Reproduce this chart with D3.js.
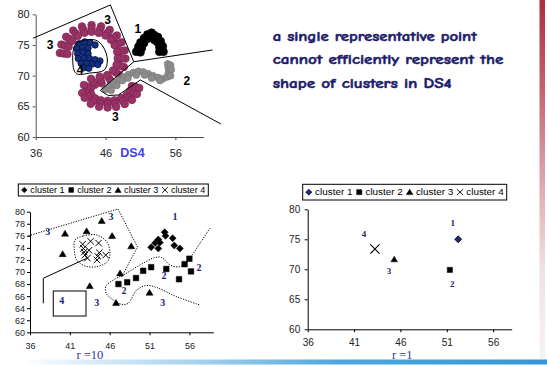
<!DOCTYPE html>
<html><head><meta charset="utf-8">
<script src="https://cdn.jsdelivr.net/npm/d3@7/dist/d3.min.js"></script>
<style>html,body{margin:0;padding:0;background:#fff;}svg{display:block;}</style>
</head><body>
<svg id="chart" width="547" height="365"></svg>
<script>
// ================= DATA =================
// --- DS4 (top chart) ---
const ds4XTicks=[36,46,56];
const ds4YTicks=[60,65,70,75,80];
const ds4Cluster1=[[50.4,73.9],[51.0,73.8],[50.7,74.7],[51.2,74.5],[51.0,75.4],[51.5,75.3],[51.5,76.1],[52.0,76.0],[52.0,76.7],[52.5,76.4],[52.6,77.0],[53.0,76.6],[53.5,76.3],[53.0,75.8],[53.4,75.5],[53.9,75.6],[53.7,74.7],[54.2,74.8],[53.7,73.9],[54.3,73.9]];
const ds4Cluster2=[[46.0,67.8],[46.6,68.3],[47.2,68.8],[47.9,69.3],[48.6,69.8],[49.3,70.2],[50.0,70.5],[50.7,70.7],[51.4,70.6],[52.1,70.3],[52.8,70.0],[53.5,69.7],[54.2,69.5],[54.8,69.8],[55.0,70.5],[55.0,71.3],[54.9,71.9],[55.3,71.7],[46.8,67.6],[47.6,68.4],[48.4,69.2],[49.2,69.6],[50.4,70.1],[51.6,70.1],[52.6,69.6],[53.8,69.2],[55.3,70.0],[55.4,71.0]];
const ds4Cluster3=[
 [39.46,73.68],[39.68,75.07],[40.36,76.33],[41.37,77.34],[42.62,78.02],[44.0,78.25],[45.36,78.03],[46.6,77.46],[47.62,76.55],[48.3,75.43],[48.74,74.11],[48.85,72.78],[48.62,71.42],[47.93,70.16],[46.76,69.12],[45.44,68.77],[44.48,68.52],[43.89,67.94],[43.75,67.13],[43.98,66.92],[44.52,66.3],[45.33,65.99],[46.3,65.9],[47.28,65.99],[48.25,66.34],[49.03,66.85],[49.51,67.51],[49.78,68.32],
 [40.0,73.6],[40.2,74.9],[40.8,76.0],[41.7,76.9],[42.8,77.5],[44.0,77.7],[45.2,77.5],[46.3,77.0],[47.2,76.2],[47.8,75.2],[48.2,74.0],[48.3,72.8],[48.1,71.6],[47.5,70.5],[46.5,69.6],[45.3,69.3],[44.2,69.0],[43.4,68.2],[43.2,67.2],[43.5,66.65],[44.2,65.85],[45.2,65.45],[46.3,65.35],[47.4,65.45],[48.5,65.85],[49.4,66.45],[50.0,67.25],[50.3,68.15],
 [40.54,73.52],[40.72,74.73],[41.24,75.67],[42.03,76.46],[42.98,76.98],[44.0,77.15],[45.04,76.97],[46.0,76.54],[46.78,75.85],[47.3,74.97],[47.66,73.89],[47.75,72.82],[47.58,71.78],[47.07,70.84],[46.24,70.08],[45.16,69.83],[43.92,69.48],[42.91,68.46],[42.65,67.17],[43.02,66.38],[43.88,65.4],[45.07,64.92],[46.3,64.8],[47.52,64.91],[48.75,65.36],[49.78,66.05],[50.49,66.99],[50.82,67.98]
];
const ds4Cluster4=[[42.2,75.2],[43.0,75.5],[43.8,75.4],[44.5,75.0],[41.9,74.4],[42.7,74.6],[43.5,74.5],[42.0,73.6],[42.8,73.8],[43.5,73.6],[42.1,72.8],[42.9,72.9],[43.7,72.8],[44.5,72.6],[45.2,72.4],[42.5,72.0],[43.3,72.0],[44.1,71.9],[44.9,71.8],[42.9,71.3],[43.6,71.2]];
const ds4Line1=[[35.61,76.09],[46.69,81.52],[50.04,72.27],[61.32,74.18]];
const ds4Line2=[[50.04,72.27],[45.25,67.58],[46.4,66.76],[47.84,66.85],[51.0,69.29],[62.52,62.12]];
const ds4Ring4=[[41.8,75.24],[44.53,75.81],[45.68,74.67],[46.26,72.55],[45.83,70.92],[43.81,70.43],[41.8,70.35],[41.3,72.55]];
const ds4Labels=[['3',46.3,79.18],['3',38.06,75.0],['1',50.62,77.72],['2',57.63,69.18],['3',47.41,63.31],['4',42.37,71.04]];
const ds4Title='DS4';
const noteLines=['a single representative point','cannot efficiently represent the','shape of clusters in DS4'];

// --- legends ---
const legendLabels=['cluster 1','cluster 2','cluster 3','cluster 4'];

// --- r = 10 chart ---
const r10XTicks=[36,41,46,51,56];
const r10YTicks=[60,62,64,66,68,70,72,74,76,78,80];
const r10Cluster1=[[52.9,76.6],[53.0,76.0],[52.1,75.4],[53.9,75.6],[51.7,74.8],[52.3,74.9],[51.2,74.1],[52.1,73.9],[54.1,74.4],[54.8,73.9]];
const r10Cluster2=[[47.1,68.0],[48.2,68.3],[49.3,69.0],[50.2,70.2],[51.2,70.8],[53.1,70.5],[54.7,68.8],[55.4,71.3],[56.0,72.2],[56.2,70.1]];
const r10Cluster3=[[40.4,76.4],[43.1,76.8],[45.0,78.5],[40.1,73.0],[46.3,76.0],[48.7,74.3],[47.3,69.8],[43.5,67.7],[46.8,64.9],[51.0,66.6]];
const r10Cluster4=[[42.6,74.6],[43.6,75.1],[44.6,74.8],[42.7,73.9],[42.8,73.3],[43.4,73.6],[42.9,72.8],[44.7,73.2],[43.2,72.3],[44.5,72.6],[45.5,72.8],[44.4,72.0]];
const r10Bound3=[[35.8,76.0],[47.04,80.45],[49.49,74.15],[47.42,69.0]];
const r10Bound2=[[58.58,77.25],[57.33,74.76],[55.86,71.99],[54.83,70.88],[53.57,71.16],[52.52,72.4],[51.68,72.4],[49.8,71.16],[47.92,69.67],[46.45,68.67],[45.54,67.68],[45.54,66.52],[46.29,65.52],[47.51,64.64],[48.33,64.81],[49.39,67.01],[50.64,67.76],[51.9,67.43],[54.41,65.9],[57.33,64.53]];
const r10Bound4=[[41.65,75.31],[42.69,75.97],[44.37,76.14],[45.62,75.02],[46.04,73.1],[45.7,71.71],[44.37,70.88],[42.9,71.0],[41.86,71.99],[41.56,73.65]];
const r10Solid=[[37.67,64.81],[37.67,68.96],[43.11,72.27]];
const r10Box=[[38.92,66.85],[43.03,62.7]];
const r10Labels=[['3',46.16,79.17],['1',54.19,79.17],['3',38.22,76.8],['2',57.2,70.78],['2',52.81,69.5],['2',47.79,66.9],['4',39.98,65.24],['3',44.37,64.91],['3',52.65,64.91]];

// --- r = 1 chart ---
const r1XTicks=[36,41,46,51,56];
const r1YTicks=[60,65,70,75,80];
const r1Cluster1=[[52.23,75.0]];
const r1Cluster2=[[51.33,69.9]];
const r1Cluster3=[[45.33,71.67]];
const r1Cluster4=[[43.25,73.38]];
const r1Labels=[['1',51.63,77.83],['2',51.58,67.67],['3',44.76,69.72],['4',42.07,75.88]];
const captions=['r =10','r =1'];

// ================= DRAWING =================
const svg=d3.select('#chart');
const SANS='"Liberation Sans", Arial, Helvetica, sans-serif';
const SERIF='"Liberation Serif", "Times New Roman", serif';
const NAVY='#22237a';

const defs=svg.append('defs');
const gr=defs.append('linearGradient').attr('id','redbar').attr('x1',0).attr('y1',0).attr('x2',0).attr('y2',1);
[[0,'#b02c3c'],[0.25,'#c4646f'],[0.5,'#dca6ac'],[0.75,'#f1e1e2'],[1,'#f7f3f3']].forEach(([o,c])=>gr.append('stop').attr('offset',o).attr('stop-color',c));
svg.append('rect').attr('x',539.5).attr('y',0).attr('width',5.5).attr('height',359).attr('fill','url(#redbar)');
const gb=defs.append('linearGradient').attr('id','bluebar').attr('x1',0).attr('y1',0).attr('x2',1).attr('y2',0);
[[0,'#ffffff'],[0.05,'#f0f7fc'],[0.35,'#a3cfec'],[0.6,'#52a6db'],[1,'#3797d3']].forEach(([o,c])=>gb.append('stop').attr('offset',o).attr('stop-color',c));
svg.append('rect').attr('x',20).attr('y',359.5).attr('width',527).attr('height',5).attr('fill','url(#bluebar)');

function styleAxis(g,fs,color){
  g.attr('font-family',SANS);
  g.selectAll('text').attr('font-family',SANS).attr('font-size',fs).attr('fill','#222');
  g.selectAll('path,line').attr('stroke',color);
}
function markerPath(shape,s){
  switch(shape){
    case 'diamond': return `M0,${-s}L${s},0L0,${s}L${-s},0Z`;
    case 'square': return `M${-s},${-s}H${s}V${s}H${-s}Z`;
    case 'triangle': return `M0,${-s}L${s*1.1},${s*0.85}L${-s*1.1},${s*0.85}Z`;
    case 'x': return `M${-s},${-s}L${s},${s}M${-s},${s}L${s},${-s}`;
  }
}
function drawMarkers(g,data,xs,ys,shape,s,fill,stroke,sw){
  g.append('g').selectAll('path').data(data).join('path')
    .attr('transform',d=>`translate(${xs(d[0])},${ys(d[1])})`)
    .attr('d',markerPath(shape,s))
    .attr('fill',shape==='x'?'none':fill)
    .attr('stroke',stroke).attr('stroke-width',sw);
}
function drawLegend(g,x0,y0,w,h,items,fs){
  g.append('rect').attr('x',x0).attr('y',y0).attr('width',w).attr('height',h).attr('fill','#fff').attr('stroke','#000').attr('stroke-width',1);
  const inner=g.append('g');
  let cx=0;
  items.forEach(it=>{
    inner.append('path').attr('transform',`translate(${cx+3},0)`).attr('d',markerPath(it.shape,it.s))
      .attr('fill',it.shape==='x'?'none':it.fill).attr('stroke',it.stroke).attr('stroke-width',it.sw);
    const t=inner.append('text').attr('x',cx+9).attr('y',0).attr('dy','0.35em').attr('font-family',SANS).attr('font-size',fs).attr('fill','#000').text(it.label);
    cx+=9+t.node().getComputedTextLength()+3.5;
  });
  const span=cx-3.5, target=w-6;
  inner.attr('transform',`translate(${x0+3},${y0+h/2}) scale(${target/span},1)`);
}
function drawLabels(g,data,xs,ys,fs,family,weight,fill){
  g.append('g').selectAll('text').data(data).join('text')
    .attr('x',d=>xs(d[1])).attr('y',d=>ys(d[2])).attr('dy','0.36em')
    .attr('text-anchor','middle').attr('font-family',family).attr('font-weight',weight)
    .attr('font-size',fs).attr('fill',fill).text(d=>d[0]);
}

// ---------- Top chart (DS4) ----------
const x1=d3.scaleLinear().domain([36,60]).range([35.7,203.3]);
const y1=d3.scaleLinear().domain([60,80]).range([137,14.3]);
const gTop=svg.append('g');
gTop.append('g').attr('transform',`translate(0,${y1(60)})`)
  .call(d3.axisBottom(x1).tickValues(ds4XTicks).tickSize(3).tickSizeOuter(0).tickPadding(9).tickFormat(d3.format('d')))
  .call(g=>styleAxis(g,11,'#444'));
gTop.append('g').attr('transform',`translate(${x1(36)},0)`)
  .call(d3.axisLeft(y1).tickValues(ds4YTicks).tickSize(3).tickSizeOuter(0).tickPadding(3).tickFormat(d3.format('d')))
  .call(g=>styleAxis(g,11,'#555'));
const dots=(data,r,fill,stroke,sw)=>gTop.append('g').selectAll('circle').data(data).join('circle')
  .attr('cx',d=>x1(d[0])).attr('cy',d=>y1(d[1])).attr('r',r).attr('fill',fill).attr('stroke',stroke).attr('stroke-width',sw);
dots(ds4Cluster3,3.8,'#993366','#7b2252',0.7);
dots(ds4Cluster2,3.5,'#8c8c8c','#777',0.6);
dots(ds4Cluster1,4,'#000','#000',0.5);
dots(ds4Cluster4,3.2,'#12307f','#050f45',0.8);
const lin1=d3.line().x(d=>x1(d[0])).y(d=>y1(d[1]));
const ring1=d3.line().x(d=>x1(d[0])).y(d=>y1(d[1])).curve(d3.curveCatmullRomClosed);
gTop.append('path').attr('d',lin1(ds4Line1)).attr('fill','none').attr('stroke','#000').attr('stroke-width',1);
gTop.append('path').attr('d',lin1(ds4Line2)).attr('fill','none').attr('stroke','#000').attr('stroke-width',1);
gTop.append('path').attr('d',ring1(ds4Ring4)).attr('fill','none').attr('stroke','#000').attr('stroke-width',1);
drawLabels(gTop,ds4Labels,x1,y1,12,SANS,'bold','#000');
gTop.append('text').attr('x',132.5).attr('y',156.5).attr('text-anchor','middle').attr('font-family',SANS).attr('font-weight','bold').attr('font-size',12.5).attr('fill','#4040ee').text(ds4Title);

// ---------- Note text ----------
const noteBase=[40.5,64,87.5], noteLen=[204,230.6,179];
svg.append('g').selectAll('text').data(noteLines).join('text')
  .attr('x',272.7).attr('y',(d,i)=>noteBase[i])
  .attr('font-family','"Comic Sans MS", "Comic Neue", Lato, "Noto Sans", sans-serif')
  .attr('font-weight','bold').attr('font-size',13).attr('fill','#1b1a6b')
  .attr('stroke','#1b1a6b').attr('stroke-width',0.45)
  .attr('textLength',(d,i)=>noteLen[i]).attr('lengthAdjust','spacingAndGlyphs').text(d=>d);

// ---------- r = 10 chart ----------
const x2=d3.scaleLinear().domain([36,59]).range([30,213.3]);
const y2=d3.scaleLinear().domain([60,80]).range([332.3,211.7]);
const gL=svg.append('g');
gL.append('g').attr('transform',`translate(0,${y2(60)})`)
  .call(d3.axisBottom(x2).tickValues(r10XTicks).tickSize(3).tickSizeOuter(0).tickPadding(7).tickFormat(d3.format('d')))
  .call(g=>styleAxis(g,9,'#000'));
gL.append('g').attr('transform',`translate(${x2(36)},0)`)
  .call(d3.axisLeft(y2).tickValues(r10YTicks).tickSize(3).tickSizeOuter(0).tickPadding(2).tickFormat(d3.format('d')))
  .call(g=>styleAxis(g,9,'#000'));
const lin2=d3.line().x(d=>x2(d[0])).y(d=>y2(d[1]));
const crv2=d3.line().x(d=>x2(d[0])).y(d=>y2(d[1])).curve(d3.curveCatmullRom);
const ring2=d3.line().x(d=>x2(d[0])).y(d=>y2(d[1])).curve(d3.curveCatmullRomClosed);
const dotted={'fill':'none','stroke':'#000','stroke-width':1,'stroke-dasharray':'1.2 1.4'};
const applyAttrs=(sel,o)=>{Object.entries(o).forEach(([k,v])=>sel.attr(k,v));return sel;};
applyAttrs(gL.append('path').attr('d',lin2(r10Bound3)),dotted);
applyAttrs(gL.append('path').attr('d',crv2(r10Bound2)),dotted);
applyAttrs(gL.append('path').attr('d',ring2(r10Bound4)),dotted);
gL.append('path').attr('d',lin2(r10Solid)).attr('fill','none').attr('stroke','#000').attr('stroke-width',1);
gL.append('rect').attr('x',x2(r10Box[0][0])).attr('y',y2(r10Box[0][1]))
  .attr('width',x2(r10Box[1][0])-x2(r10Box[0][0])).attr('height',y2(r10Box[1][1])-y2(r10Box[0][1]))
  .attr('fill','none').attr('stroke','#000').attr('stroke-width',1);
drawMarkers(gL,r10Cluster1,x2,y2,'diamond',3.5,'#000','#000',0.5);
drawMarkers(gL,r10Cluster2,x2,y2,'square',2.8,'#000','#000',0.5);
drawMarkers(gL,r10Cluster3,x2,y2,'triangle',3.2,'#000','#000',0.5);
drawMarkers(gL,r10Cluster4,x2,y2,'x',3.2,'none','#000',1);
drawLabels(gL,r10Labels,x2,y2,10,SERIF,'bold',NAVY);
drawLegend(gL,18.3,184,190,12,[
  {shape:'diamond',s:2.8,fill:'#000',stroke:'#000',sw:0.5,label:legendLabels[0]},
  {shape:'square',s:2.4,fill:'#000',stroke:'#000',sw:0.5,label:legendLabels[1]},
  {shape:'triangle',s:2.8,fill:'#000',stroke:'#000',sw:0.5,label:legendLabels[2]},
  {shape:'x',s:2.8,fill:'none',stroke:'#000',sw:0.9,label:legendLabels[3]}],9);
svg.append('text').attr('x',76.5).attr('y',359).attr('font-family',SERIF).attr('font-size',12.5).attr('fill','#2b3990').text(captions[0]);

// ---------- r = 1 chart ----------
const x3=d3.scaleLinear().domain([36,58]).range([307.7,511.7]);
const y3=d3.scaleLinear().domain([60,80]).range([329.3,209.3]);
const gR=svg.append('g');
gR.append('g').attr('transform',`translate(0,${y3(60)})`)
  .call(d3.axisBottom(x3).tickValues(r1XTicks).tickSize(3).tickSizeOuter(0).tickPadding(7).tickFormat(d3.format('d')))
  .call(g=>styleAxis(g,10,'#000'));
gR.append('g').attr('transform',`translate(${x3(36)},0)`)
  .call(d3.axisLeft(y3).tickValues(r1YTicks).tickSize(3).tickSizeOuter(0).tickPadding(4.5).tickFormat(d3.format('d')))
  .call(g=>styleAxis(g,10,'#000'));
drawMarkers(gR,r1Cluster1,x3,y3,'diamond',3.5,'#1c2a80','#000',0.8);
drawMarkers(gR,r1Cluster2,x3,y3,'square',2.6,'#000','#000',0.5);
drawMarkers(gR,r1Cluster3,x3,y3,'triangle',3,'#000','#000',0.5);
drawMarkers(gR,r1Cluster4,x3,y3,'x',4.6,'none','#000',1.1);
drawLabels(gR,r1Labels,x3,y3,9,SERIF,'bold',NAVY);
drawLegend(gR,302.7,184.3,204,15.7,[
  {shape:'diamond',s:3,fill:'#1c2a80',stroke:'#000',sw:0.6,label:legendLabels[0]},
  {shape:'square',s:2.5,fill:'#000',stroke:'#000',sw:0.5,label:legendLabels[1]},
  {shape:'triangle',s:2.9,fill:'#000',stroke:'#000',sw:0.5,label:legendLabels[2]},
  {shape:'x',s:3,fill:'none',stroke:'#000',sw:0.9,label:legendLabels[3]}],9.5);
svg.append('text').attr('x',392).attr('y',359).attr('font-family',SERIF).attr('font-size',12.5).attr('fill','#2b3990').text(captions[1]);
</script>
</body></html>
